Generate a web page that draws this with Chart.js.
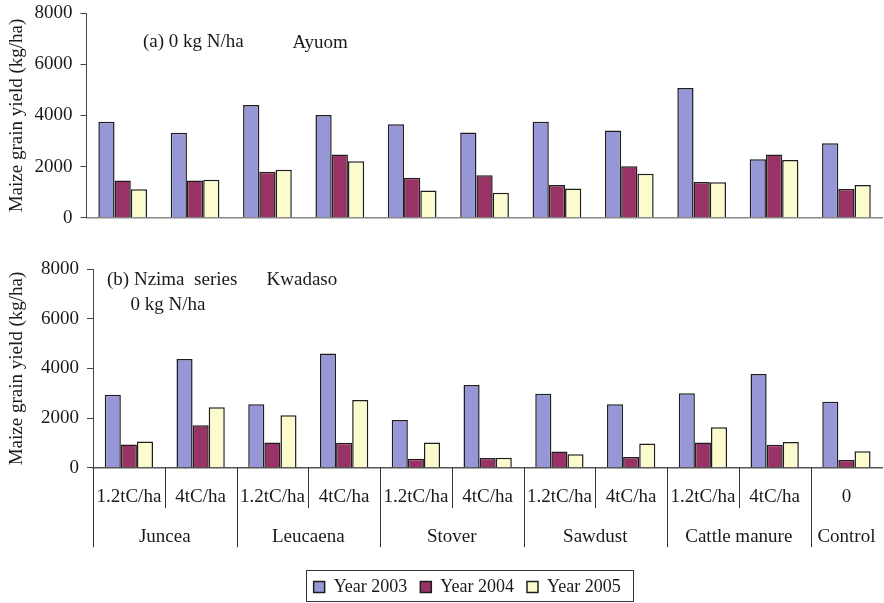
<!DOCTYPE html>
<html>
<head>
<meta charset="utf-8">
<script src="https://cdn.jsdelivr.net/npm/chart.js@4/dist/chart.umd.min.js"></script>
<style>
html,body{margin:0;padding:0;background:#fff;}
#wrap{position:relative;width:884px;height:603px;overflow:hidden;}
canvas{position:absolute;left:0;}
</style>
</head>
<body>
<div id="wrap">
<canvas id="top" width="884" height="232" style="top:0"></canvas>
<canvas id="bot" width="884" height="356" style="top:250px"></canvas>
</div>
<script>
const categories = ['1.2tC/ha','4tC/ha','1.2tC/ha','4tC/ha','1.2tC/ha','4tC/ha','1.2tC/ha','4tC/ha','1.2tC/ha','4tC/ha','0'];
const groups = ['Juncea','Leucaena','Stover','Sawdust','Cattle manure','Control'];
const groupSpans = [2,2,2,2,2,1];
const seriesNames = ['Year 2003','Year 2004','Year 2005'];
const seriesColors = ['#9797d7','#993366','#fbfbcd'];
const yTicks = [0,2000,4000,6000,8000];

const ayuom2003 = [3760,3320,4410,4020,3660,3330,3760,3410,5080,2290,2910];
const ayuom2004 = [1460,1460,1800,2470,1560,1660,1280,2010,1400,2470,1120];
const ayuom2005 = [1110,1490,1880,2210,1060,980,1140,1720,1390,2260,1280];

const kwadaso2003 = [2940,4380,2560,4600,1920,3330,2980,2560,3000,3780,2660];
const kwadaso2004 = [940,1710,1020,1010,360,390,650,430,1020,930,310];
const kwadaso2005 = [1060,2440,2110,2730,1020,400,540,980,1630,1040,660];

const FONT = '"Liberation Serif","Times New Roman",serif';
const FS = 19;
const TXT = '#1a1a1a';

function makeDatasets(arrs){
  return arrs.map((d,i)=>({
    label: seriesNames[i], data: d,
    backgroundColor: seriesColors[i],
    borderColor: '#1e1e1e', borderWidth: 1.5, borderSkipped: 'start',
    barPercentage: 1.0, categoryPercentage: 0.673
  }));
}

function yScale(leftWidth){
  return {
    min: 0, max: 8000,
    afterBuildTicks: s => { s.ticks = yTicks.map(v=>({value:v})); },
    afterFit: s => { s.width = leftWidth; s.paddingTop = 0; s.paddingBottom = 0; },
    ticks: { font:{family:FONT,size:FS}, color:TXT, padding:8, callback: v => String(v) },
    grid: { drawOnChartArea:false, drawTicks:true, tickLength:6, color:'#444' },
    border: { display:true, color:'#444', width:1 },
    title: { display:true, text:'Maize grain yield (kg/ha)', font:{family:FONT,size:FS}, color:TXT, padding:{top:6,bottom:0} }
  };
}

function textPlugin(items){
  return {
    id:'annot'+Math.random().toString(36).slice(2),
    afterDraw(chart){
      const ctx = chart.ctx;
      ctx.save();
      ctx.font = FS+'px '+FONT;
      ctx.fillStyle = TXT;
      ctx.textBaseline = 'middle';
      ctx.textAlign = 'left';
      items.forEach(t=>ctx.fillText(t.text,t.x,t.y));
      ctx.restore();
    }
  };
}

// ---- Top panel (a) Ayuom ----
new Chart(document.getElementById('top'), {
  type:'bar',
  data:{ labels:categories, datasets:makeDatasets([ayuom2003,ayuom2004,ayuom2005]) },
  options:{
    responsive:false, animation:false, devicePixelRatio:1,
    layout:{ padding:{ top:13.3, right:1.4, bottom:14.3, left:0 } },
    plugins:{ legend:{display:false}, tooltip:{enabled:false} },
    scales:{
      x:{
        ticks:{display:false},
        grid:{display:false, drawTicks:false},
        border:{display:true, color:'#888', width:1.5},
        afterFit: s => { s.height = 0; }
      },
      y: yScale(86.5)
    }
  },
  plugins:[ textPlugin([
    {text:'(a) 0 kg N/ha', x:143, y:42.5},
    {text:'Ayuom', x:292.5, y:43}
  ]) ]
});

// ---- Bottom panel (b) Kwadaso ----
const LEGEND_SHIFT = 26;
const groupPlugin = {
  id:'groups',
  afterUpdate(chart){
    const lg = chart.legend;
    if (lg){
      lg.left += LEGEND_SHIFT; lg.right += LEGEND_SHIFT;
      (lg.legendHitBoxes||[]).forEach(h=>{ h.left += LEGEND_SHIFT; });
    }
  },
  afterDraw(chart){
    const ctx = chart.ctx, x = chart.scales.x, base = chart.chartArea.bottom;
    const n = categories.length, w = (x.right - x.left)/n;
    const outer = new Set([0]);
    let acc = 0; groupSpans.forEach(s=>{ acc+=s; outer.add(acc); });
    ctx.save();
    ctx.strokeStyle = '#333'; ctx.lineWidth = 1;
    for(let i=0;i<n;i++){
      const px = Math.round(x.left + i*w) + 0.5;
      ctx.beginPath();
      ctx.moveTo(px, base);
      ctx.lineTo(px, outer.has(i) ? base+79.5 : base+40.5);
      ctx.stroke();
    }
    ctx.font = FS+'px '+FONT; ctx.fillStyle = TXT;
    ctx.textAlign='center'; ctx.textBaseline='middle';
    let start = 0;
    groups.forEach((g,gi)=>{
      const cx = x.left + (start + groupSpans[gi]/2)*w;
      ctx.fillText(g, cx, base + 69);
      start += groupSpans[gi];
    });
    // legend frame
    const lg = chart.legend;
    if (lg && lg.legendHitBoxes && lg.legendHitBoxes.length){
      const hb = lg.legendHitBoxes;
      const last = hb[hb.length-1];
      const l = hb[0].left - 8, r = last.left + last.width + 12;
      const t = hb[0].top - 8, b = hb[0].top + hb[0].height + 5;
      ctx.strokeStyle = '#333'; ctx.lineWidth = 1;
      ctx.strokeRect(Math.round(l)+0.5, Math.round(t)+0.5, Math.round(r-l), Math.round(b-t));
    }
    ctx.restore();
  }
};

new Chart(document.getElementById('bot'), {
  type:'bar',
  data:{ labels:categories, datasets:makeDatasets([kwadaso2003,kwadaso2004,kwadaso2005]) },
  options:{
    responsive:false, animation:false, devicePixelRatio:1,
    layout:{ padding:{ top:19.3, right:1.7, bottom:0, left:0 } },
    plugins:{
      tooltip:{enabled:false},
      legend:{
        display:true, position:'bottom',
        labels:{ font:{family:FONT,size:18}, color:TXT, boxWidth:11, boxHeight:11, padding:13 }
      }
    },
    scales:{
      x:{
        ticks:{ font:{family:FONT,size:FS}, color:TXT, padding:18, autoSkip:false, maxRotation:0 },
        grid:{display:false, drawTicks:false},
        border:{display:true, color:'#555', width:1.5},
        afterFit: s => { s.height = 97.3; }
      },
      y: yScale(93)
    }
  },
  plugins:[ groupPlugin, textPlugin([
    {text:'(b) Nzima  series', x:107, y:30.5},
    {text:'Kwadaso', x:266.5, y:30.5},
    {text:'0 kg N/ha', x:130.5, y:55.5}
  ]) ]
});
</script>
</body>
</html>
